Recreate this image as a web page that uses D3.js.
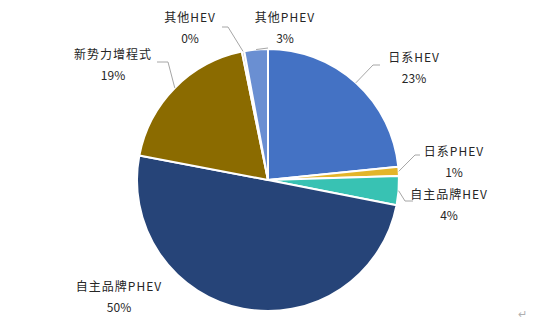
<!DOCTYPE html>
<html><head><meta charset="utf-8">
<script src="https://cdn.jsdelivr.net/npm/d3@7"></script>
<style>
html,body{margin:0;padding:0;background:#fff;}
svg{display:block;}
text{font-family:"Noto Sans CJK SC","Liberation Sans",sans-serif;font-size:12px;fill:#262626;}
</style></head>
<body>
<svg id="chart" width="544" height="321"></svg>
<script>
// ---- data ----
const categories = ["日系HEV","日系PHEV","自主品牌HEV","自主品牌PHEV","新势力增程式","其他HEV","其他PHEV"];
const shares = [23.4, 1.1, 3.6, 49.9, 18.8, 0.3, 2.9];
const shareLabels = ["23%","1%","4%","50%","19%","0%","3%"];
const colors = ["#4472C4","#E3B52A","#38C2B3","#264478","#8B6B00","#A5A5A5","#6A8FD2"];

// ---- layout (label placement, relative to pie centre) ----
const cx = 268, cy = 180, R = 131;
const labelLayout = [
  {tx:146, ty:-122, elbow:[[105,-115],[112,-115]]},
  {tx:186, ty:-28,  elbow:[[147,-25],[152,-25]]},
  {tx:181, ty:15,   elbow:[[137,21],[145,21]]},
  {tx:-149,ty:107,  elbow:null},
  {tx:-155,ty:-125, elbow:[[-100,-118],[-111,-118]]},
  {tx:-78, ty:-162, elbow:[[-40,-153],[-46,-153]]},
  {tx:17,  ty:-162, elbow:[[0,-132]]}
];

const svg = d3.select("#chart");
const g = svg.append("g").attr("transform", `translate(${cx},${cy})`);

const data = categories.map((c,i)=>({name:c, value:shares[i], label:shareLabels[i], color:colors[i], i}));
const pie = d3.pie().value(d=>d.value).sort(null);
const arcs = pie(data);
const arc = d3.arc().innerRadius(0).outerRadius(R);
const edge = d3.arc().innerRadius(R).outerRadius(R);

g.selectAll("path.slice").data(arcs).join("path")
  .attr("class","slice")
  .attr("d", arc)
  .attr("fill", d=>d.data.color)
  .attr("stroke","#fff")
  .attr("stroke-width",2)
  .attr("stroke-linejoin","round");

// leader lines
arcs.forEach((a,i)=>{
  const L = labelLayout[i];
  if(!L.elbow) return;
  const p0 = edge.centroid(a);
  const pts = [p0, ...L.elbow];
  g.append("polyline")
    .attr("points", pts.map(p=>p.join(",")).join(" "))
    .attr("fill","none").attr("stroke","#A6A6A6").attr("stroke-width",1);
});

// labels
arcs.forEach((a,i)=>{
  const L = labelLayout[i];
  const t = g.append("text").attr("text-anchor","middle")
    .attr("transform",`translate(${L.tx},${L.ty})`);
  t.append("tspan").attr("x",0).attr("dy","0.35em").style("letter-spacing","1px").text(a.data.name);
  t.append("tspan").attr("x",0).attr("dy","1.7em").text(a.data.label);
});

// paragraph mark
svg.append("text").attr("x",518).attr("y",318).style("fill","#B0B0B0").style("font-size","11px").text("↵");
</script>
</body></html>
